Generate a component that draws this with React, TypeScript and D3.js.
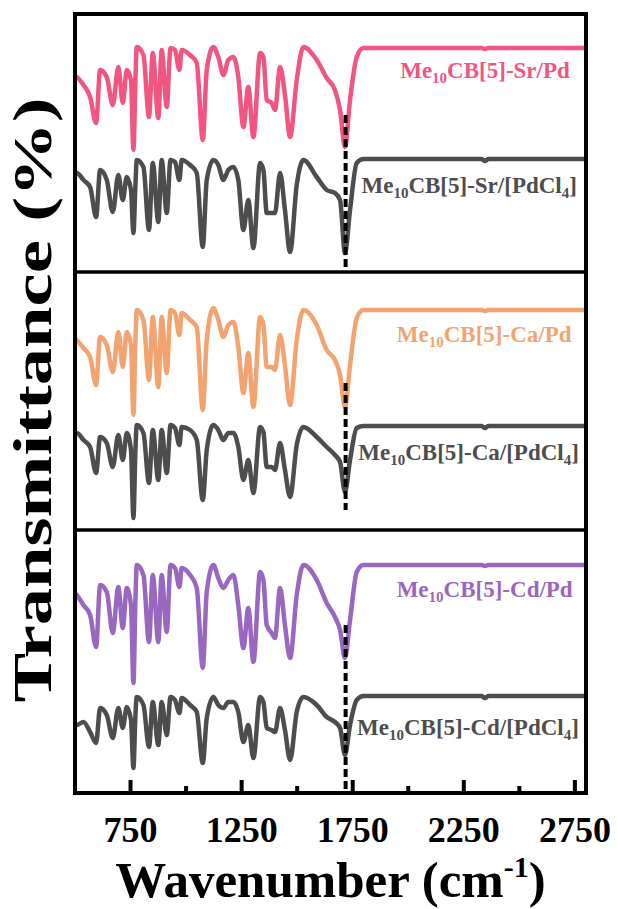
import React from "react";
import * as d3 from "d3";

// Wavenumber grid (cm-1)
const WN = [500, 508, 538, 568, 595, 613, 643, 670, 695, 715, 733, 752, 763, 772, 778, 808, 833, 850, 875, 890, 913, 930, 950, 970, 980, 1018, 1048, 1075, 1093, 1123, 1145, 1168, 1190, 1213, 1235, 1258, 1280, 1303, 1333, 1348, 1363, 1385, 1400, 1423, 1445, 1468, 1498, 1528, 1588, 1633, 1670, 1693, 1715, 1738, 1768, 1798, 2000, 2330, 2345, 2360, 2800];

// Offset transmittance (a.u.) for each spectrum
const SR_PD = [358.5, 358, 354, 348, 335, 361.5, 358, 344, 363, 345, 361.5, 356.5, 321.5, 356.5, 373, 369, 338, 370, 337.5, 371.5, 343, 372.5, 371.5, 361.5, 371.5, 369, 365, 326.5, 361.5, 373, 368, 359, 366.5, 368, 358, 333, 353, 328, 370, 368, 346.5, 345, 341.5, 363, 349, 328, 356.5, 373, 366.5, 357.5, 351.5, 341.5, 323, 346.5, 368, 372.5, 372.5, 372.5, 372, 372.5, 372.5];
const SR_PDCL4 = [310, 310, 306.5, 303, 288, 311.5, 306.5, 290.5, 309, 296.5, 308, 301.5, 280, 304, 316.5, 313, 281.5, 315, 285.5, 316.5, 290, 316.5, 315.5, 306.5, 316.5, 314, 310, 273, 306.5, 316.5, 314, 306.5, 311.5, 313, 306.5, 281.5, 296.5, 272.5, 315, 311.5, 290, 290, 290, 310, 291.5, 270.5, 304, 316.5, 308, 301.5, 300, 296.5, 270, 291.5, 315, 317, 317, 317, 316, 317, 317];
const CA_PD = [227.5, 226.5, 222.5, 218, 204, 228, 224, 210.5, 230.5, 213, 230.5, 224, 189, 226.5, 241.5, 236.5, 206.5, 238, 203, 238, 210, 241.5, 240, 229, 240, 236.5, 233, 191.5, 226.5, 242.5, 236.5, 228, 234, 235.5, 223, 200, 220, 193, 238, 234, 213, 213, 211.5, 229, 214, 194, 226.5, 241.5, 234, 221.5, 216.5, 209, 193, 214, 237.5, 241.5, 241.5, 241.5, 241, 241.5, 241.5];
const CA_PDCL4 = [180, 180, 176.5, 173, 160, 178, 175, 163, 179, 166.5, 180, 171.5, 137.5, 171.5, 184, 180, 155, 181.5, 156.5, 181.5, 160, 184, 182.5, 174, 183, 181.5, 176.5, 146.5, 171.5, 184, 181.5, 176.5, 180, 180, 173, 156.5, 166.5, 150, 183, 180.5, 163, 163, 161.5, 175, 161.5, 148, 174, 183, 178, 173, 169, 165.5, 150.5, 166.5, 182.5, 183.5, 183.5, 183.5, 182.5, 183.5, 183.5];
const CD_PD = [100, 99, 94, 89, 73, 104, 100.5, 80, 103, 82.5, 102.5, 94, 55, 96.5, 114, 109, 75.5, 109, 75.5, 109, 80.5, 114, 112.5, 103, 112.5, 109, 102.5, 62.5, 100.5, 114, 107.5, 102.5, 106.5, 109, 94, 72.5, 92.5, 65.5, 110.5, 106.5, 84, 80, 77.5, 102.5, 84, 67.5, 99, 114, 106.5, 95, 88, 81.5, 67.5, 86.5, 110.5, 114, 114, 114, 113.5, 114, 114];
const CD_PDCL4 = [34, 34, 35.5, 30.5, 25, 42.5, 39, 27.5, 42.5, 32.5, 43, 36.5, 12.5, 39, 48, 44, 23, 45.5, 24, 45.5, 29, 48, 46.5, 40, 47.5, 44, 40.5, 15, 37.5, 48, 44, 42.5, 45.5, 45.5, 40.5, 25.5, 34, 17.5, 48, 45.5, 32.5, 31.5, 30.5, 42.5, 31.5, 16.5, 40.5, 48, 44, 38, 35.5, 32.5, 19, 34, 46.5, 48.5, 48.5, 48.5, 47.5, 48.5, 48.5];

const SERIES_NAMES = ["Sr/Pd", "Sr/[PdCl4]", "Ca/Pd", "Ca/[PdCl4]", "Cd/Pd", "Cd/[PdCl4]"];
const SERIES_DATA = [SR_PD, SR_PDCL4, CA_PD, CA_PDCL4, CD_PD, CD_PDCL4];
const SERIES_COLORS = ["#F2557F", "#4D4D4D", "#F3A36F", "#4D4D4D", "#9A67C0", "#4D4D4D"];

// Label anchors (right end wavenumber, baseline value)
const LABEL_X = [2727, 2759, 2735, 2768, 2740, 2768];
const LABEL_Y = [357.5, 300, 225.5, 166.5, 98, 29];
const LABEL_METAL = ["Sr", "Sr", "Ca", "Ca", "Cd", "Cd"];
const LABEL_IS_CL4 = [false, true, false, true, false, true];

// C=O reference line (cm-1) and its segments per panel
const DASH_WN = 1718;
const DASH_SEGMENTS = [[339, 261.5], [205, 141.5], [84, 1.5]];
const PANEL_BREAKS = [260.5, 131.5];

const X_DOMAIN = [500, 2800];
const Y_DOMAIN = [0, 389.5];
const MAJOR_TICKS = [750, 1250, 1750, 2250, 2750];
const MINOR_TICKS = [1000, 1500, 2000, 2500];

const FONT = "'Liberation Serif', 'Times New Roman', serif";

export default function App() {
  const W = 617, H = 909;
  const left = 75, right = 586, top = 14, bottom = 793;
  const x = d3.scaleLinear().domain(X_DOMAIN).range([left, right]);
  const y = d3.scaleLinear().domain(Y_DOMAIN).range([bottom, top]);
  const line = d3
    .line<number>()
    .x((_, i) => x(WN[i]))
    .y((d) => y(d))
    .curve(d3.curveMonotoneX);

  return (
    <svg width={W} height={H} style={{ position: "absolute", left: 0, top: 0, background: "#fff" }}>
      <defs>
        <clipPath id="plot">
          <rect x={left} y={top} width={right - left} height={bottom - top} />
        </clipPath>
      </defs>
      <g clipPath="url(#plot)">
        {SERIES_DATA.map((s, i) => (
          <path key={i} d={line(s) || ""} fill="none" stroke={SERIES_COLORS[i]} strokeWidth={4.5} strokeLinejoin="round" />
        ))}
        {DASH_SEGMENTS.map((seg, i) => (
          <line key={i} x1={x(DASH_WN)} x2={x(DASH_WN)} y1={y(seg[0])} y2={y(seg[1])} stroke="#000" strokeWidth={4} strokeDasharray="8,4" />
        ))}
      </g>
      {SERIES_NAMES.map((n, i) => (
        <text
          key={n}
          x={x(LABEL_X[i])}
          y={y(LABEL_Y[i])}
          textAnchor="end"
          fontFamily={FONT}
          fontWeight="bold"
          fontSize={23}
          fill={SERIES_COLORS[i]}
        >
          Me<tspan fontSize={15} dy={5}>10</tspan>
          <tspan dy={-5}>CB[5]-{LABEL_METAL[i]}/{LABEL_IS_CL4[i] ? "[PdCl" : "Pd"}</tspan>
          {LABEL_IS_CL4[i] ? (
            <>
              <tspan fontSize={15} dy={5}>4</tspan>
              <tspan dy={-5}>]</tspan>
            </>
          ) : null}
        </text>
      ))}
      {PANEL_BREAKS.map((b, i) => (
        <line key={i} x1={left} x2={right} y1={y(b)} y2={y(b)} stroke="#000" strokeWidth={3.5} />
      ))}
      <rect x={left} y={top} width={right - left} height={bottom - top} fill="none" stroke="#000" strokeWidth={4} />
      {MAJOR_TICKS.map((t) => (
        <g key={t}>
          <line x1={x(t)} x2={x(t)} y1={bottom} y2={bottom - 13} stroke="#000" strokeWidth={4} />
          <text x={x(t)} y={842} textAnchor="middle" fontFamily={FONT} fontWeight="bold" fontSize={36} fill="#000">
            {t}
          </text>
        </g>
      ))}
      {MINOR_TICKS.map((t) => (
        <line key={t} x1={x(t)} x2={x(t)} y1={bottom} y2={bottom - 7} stroke="#000" strokeWidth={4} />
      ))}
      <text x={(left + right) / 2} y={897} textAnchor="middle" fontFamily={FONT} fontWeight="bold" fontSize={51} fill="#000">
        Wavenumber (cm<tspan fontSize={30} dy={-20}>-1</tspan>
        <tspan dy={20}>)</tspan>
      </text>
      <text
        transform={`translate(51, 400) rotate(-90)`}
        textAnchor="middle"
        fontFamily={FONT}
        fontWeight="bold"
        fontSize={54}
        textLength={605}
        lengthAdjust="spacingAndGlyphs"
        fill="#000"
      >
        Transmittance (%)
      </text>
    </svg>
  );
}
